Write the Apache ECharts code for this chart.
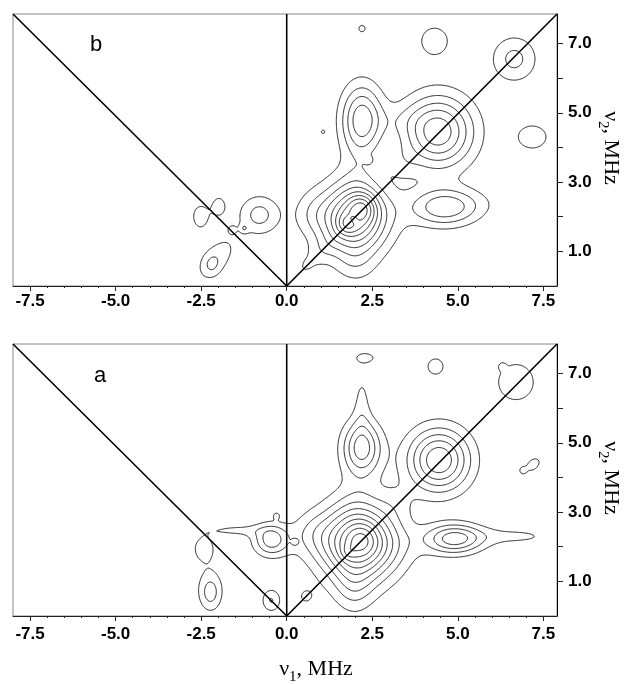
<!DOCTYPE html>
<html>
<head>
<meta charset="utf-8">
<script src="https://cdn.jsdelivr.net/npm/echarts@6/dist/echarts.min.js"></script>
<style>
  html, body { margin: 0; padding: 0; background: #fff; }
  #chart { width: 624px; height: 684px; }
</style>
</head>
<body>
<div id="chart"></div>
<script>
// ---- axis ranges and ticks (MHz) ----
const X_RANGE = [-8, 7.9];
const Y_RANGE = [0, 7.85];
const xLabelValues = [-7.5, -5.0, -2.5, 0.0, 2.5, 5.0, 7.5];
const xMinorTicks = [-7.5, -7, -6.5, -6, -5.5, -5, -4.5, -4, -3.5, -3, -2.5, -2, -1.5, -1, -0.5, 0,
                     0.5, 1, 1.5, 2, 2.5, 3, 3.5, 4, 4.5, 5, 5.5, 6, 6.5, 7, 7.5];
const yLabelValues = [1, 3, 5, 7];
const yTickValues = [1, 2, 3, 4, 5, 6, 7];

// contour levels (relative intensity units)
const contourLevels = [1, 2, 3, 4, 5, 6, 7, 8, 9, 10];

// spectral features: [nu1, nu2, widthX, widthY, amplitude, tiltDeg]
const peaksB = [
  // central (nu ~ 2.1 MHz) correlation
  [1.95, 1.95, 0.72, 0.72, 6.2, 0],
  [2.24, 2.28, 0.28, 0.28, 2.2, 0],
  [1.75, 1.78, 0.20, 0.20, 1.5, 0],
  [1.95, 1.93, 0.12, 0.12, -1.0, 0],
  [2.05, 2.30, 0.40, 1.40, 0.9, 0],
  [1.60, 2.00, 1.00, 0.40, 0.5, 0],
  [0.70, 2.15, 0.35, 0.45, 0.7, 0],
  [2.00, 0.60, 0.45, 0.35, 0.6, 0],
  [0.90, 0.90, 0.60, 0.25, 0.8, 45],
  [0.60, 0.62, 0.16, 0.10, 0.6, 45],
  // cross peaks
  [2.20, 4.80, 0.42, 0.70, 4.6, 0],
  [4.60, 2.27, 0.70, 0.38, 3.8, 0],
  [5.60, 2.40, 0.60, 0.30, 0.4, 0],
  // diagonal peak
  [4.42, 4.45, 0.72, 0.72, 5.75, 0],
  [3.30, 4.80, 0.55, 0.30, 0.5, 0],
  [3.35, 3.55, 0.32, 0.34, 0.75, 0],
  // weak features
  [6.65, 6.55, 0.47, 0.47, 2.3, 0],
  [4.32, 7.07, 0.41, 0.41, 1.5, 0],
  [7.18, 4.30, 0.44, 0.35, 1.5, 0],
  [2.20, 7.43, 0.20, 0.20, 1.1, 0],
  [1.06, 4.45, 0.08, 0.08, 1.05, 0],
  [2.41, 3.63, 0.08, 0.08, 1.05, 0],
  // (-,+) quadrant
  [-2.52, 2.00, 0.22, 0.32, 1.5, 0],
  [-1.98, 2.30, 0.18, 0.26, 1.4, 0],
  [-0.80, 2.05, 0.42, 0.40, 2.35, 0],
  [-1.60, 1.62, 0.09, 0.09, 1.15, 0],
  [-1.25, 1.66, 0.09, 0.09, 1.15, 0],
  [-2.05, 0.80, 0.55, 0.30, 1.6, 50],
  [-2.20, 0.60, 0.18, 0.22, 0.9, 0]
];

const peaksA = [
  // central (nu ~ 2.1 MHz) correlation
  [2.12, 2.12, 0.78, 0.78, 7.6, 0],
  [2.24, 2.24, 0.30, 0.30, 1.0, 0],
  [1.78, 1.82, 0.15, 0.15, 0.8, 0],
  [2.10, 2.00, 1.60, 0.40, 0.6, 0],
  [2.00, 2.10, 0.40, 1.60, 0.6, 0],
  [0.75, 2.45, 0.45, 0.40, 1.1, 0],
  [1.95, 0.75, 0.40, 0.45, 1.1, 0],
  [0.55, 0.55, 0.25, 0.25, 1.0, 0],
  // cross peaks
  [2.20, 4.85, 0.40, 0.55, 4.45, 0],
  [2.20, 6.20, 0.18, 0.65, 1.15, 0],
  [4.90, 2.23, 0.58, 0.30, 4.4, 0],
  [6.70, 2.30, 1.00, 0.20, 1.15, 0],
  // diagonal peak
  [4.45, 4.50, 0.63, 0.63, 5.9, 0],
  [3.20, 3.30, 0.35, 0.35, 0.5, 0],
  // weak features
  [2.30, 7.45, 0.28, 0.14, 1.3, 0],
  [4.35, 7.20, 0.30, 0.30, 1.3, 0],
  [6.70, 6.75, 0.52, 0.52, 1.6, 0],
  [7.20, 4.37, 0.33, 0.22, 1.2, 40],
  [6.90, 4.20, 0.07, 0.07, 1.05, 0],
  [6.30, 7.20, 0.07, 0.07, 1.05, 0],
  [0.24, 2.13, 0.07, 0.07, 1.05, 0],
  // (-,+) quadrant
  [-0.45, 2.20, 0.36, 0.32, 3.5, 0],
  [-1.50, 2.47, 0.65, 0.13, 1.15, 0],
  [-2.42, 1.95, 0.28, 0.33, 1.45, 0],
  [-2.22, 0.62, 0.22, 0.35, 1.5, 0],
  [-2.25, 0.85, 0.30, 0.45, 1.15, 0],
  [-0.45, 0.45, 0.20, 0.24, 2.05, 0],
  [-0.30, 2.90, 0.08, 0.08, 1.05, 0]
];

// ---- intensity map and contour tracing ----
const STEP = 0.025;

function buildField(peaks) {
  const nx = Math.round((X_RANGE[1] - X_RANGE[0]) / STEP) + 1;
  const ny = Math.round((Y_RANGE[1] - Y_RANGE[0]) / STEP) + 1;
  const xs = new Float64Array(nx), ys = new Float64Array(ny);
  for (let i = 0; i < nx; i++) xs[i] = Math.min(X_RANGE[0] + i * STEP, X_RANGE[1]);
  for (let j = 0; j < ny; j++) ys[j] = Math.min(Y_RANGE[0] + j * STEP, Y_RANGE[1]);
  const v = new Float64Array(nx * ny);
  for (const p of peaks) {
    const [cx, cy, sx, sy, amp, tilt] = p;
    const c = Math.cos(tilt * Math.PI / 180), s = Math.sin(tilt * Math.PI / 180);
    const reach = 4.5 * Math.max(sx, sy);
    for (let j = 0; j < ny; j++) {
      const dy0 = ys[j] - cy;
      if (Math.abs(dy0) > reach) continue;
      for (let i = 0; i < nx; i++) {
        const dx0 = xs[i] - cx;
        if (Math.abs(dx0) > reach) continue;
        const u = dx0 * c + dy0 * s, w = -dx0 * s + dy0 * c;
        v[j * nx + i] += amp * Math.exp(-0.5 * (u * u / (sx * sx) + w * w / (sy * sy)));
      }
    }
  }
  return { xs, ys, v, nx, ny };
}

function traceLevel(F, L) {
  const { xs, ys, v, nx, ny } = F;
  const segs = [];
  const ends = new Map();
  const addEnd = (k, id) => { const a = ends.get(k); if (a) a.push(id); else ends.set(k, [id]); };
  for (let j = 0; j < ny - 1; j++) {
    for (let i = 0; i < nx - 1; i++) {
      const a = v[j * nx + i], b = v[j * nx + i + 1];
      const c = v[(j + 1) * nx + i + 1], d = v[(j + 1) * nx + i];
      const code = (a >= L ? 1 : 0) | (b >= L ? 2 : 0) | (c >= L ? 4 : 0) | (d >= L ? 8 : 0);
      if (code === 0 || code === 15) continue;
      const E = {
        B: () => [((j * nx + i) * 2), [xs[i] + (L - a) / (b - a) * (xs[i + 1] - xs[i]), ys[j]]],
        T: () => [(((j + 1) * nx + i) * 2), [xs[i] + (L - d) / (c - d) * (xs[i + 1] - xs[i]), ys[j + 1]]],
        Lf: () => [((j * nx + i) * 2 + 1), [xs[i], ys[j] + (L - a) / (d - a) * (ys[j + 1] - ys[j])]],
        R: () => [((j * nx + i + 1) * 2 + 1), [xs[i + 1], ys[j] + (L - b) / (c - b) * (ys[j + 1] - ys[j])]]
      };
      const center = (a + b + c + d) / 4;
      let pairs;
      switch (code) {
        case 1: case 14: pairs = [['Lf', 'B']]; break;
        case 2: case 13: pairs = [['B', 'R']]; break;
        case 3: case 12: pairs = [['Lf', 'R']]; break;
        case 4: case 11: pairs = [['R', 'T']]; break;
        case 6: case 9: pairs = [['B', 'T']]; break;
        case 7: case 8: pairs = [['Lf', 'T']]; break;
        case 5: pairs = center >= L ? [['B', 'R'], ['T', 'Lf']] : [['Lf', 'B'], ['R', 'T']]; break;
        case 10: pairs = center >= L ? [['Lf', 'B'], ['R', 'T']] : [['B', 'R'], ['T', 'Lf']]; break;
      }
      for (const [e1, e2] of pairs) {
        const p = E[e1](), q = E[e2]();
        const id = segs.length;
        segs.push([p[0], p[1], q[0], q[1]]);
        addEnd(p[0], id); addEnd(q[0], id);
      }
    }
  }
  const used = new Uint8Array(segs.length);
  const paths = [];
  const follow = (k, push) => {
    for (;;) {
      const list = ends.get(k);
      let nxt = -1;
      if (list) for (const t of list) if (!used[t]) { nxt = t; break; }
      if (nxt < 0) return;
      used[nxt] = 1;
      const sg = segs[nxt];
      if (sg[0] === k) { push(sg[3]); k = sg[2]; } else { push(sg[1]); k = sg[0]; }
    }
  };
  for (let s = 0; s < segs.length; s++) {
    if (used[s]) continue;
    used[s] = 1;
    const line = [segs[s][1], segs[s][3]];
    follow(segs[s][2], pt => line.push(pt));
    follow(segs[s][0], pt => line.unshift(pt));
    paths.push({ coords: line });
  }
  return paths;
}

function contourData(peaks) {
  const F = buildField(peaks);
  let out = [];
  for (const L of contourLevels) out = out.concat(traceLevel(F, L));
  return out;
}

// reference lines: nu1 = 0 and the two diagonals
function guideLines() {
  return [
    { coords: [[0, Y_RANGE[0]], [0, Y_RANGE[1]]] },
    { coords: [[0, 0], [X_RANGE[1], Y_RANGE[1]]] },
    { coords: [[0, 0], [X_RANGE[0], Y_RANGE[1]]] }
  ];
}

// ---- layout ----
const SANS = '"Liberation Sans", Arial, sans-serif';
const SERIF = '"Liberation Serif", "Times New Roman", serif';
const grids = [
  { left: 13, top: 14, width: 544, height: 272 },
  { left: 13, top: 344, width: 544, height: 272 }
];

const xAxes = [], yAxes = [], series = [];
grids.forEach((g, gi) => {
  xAxes.push({
    type: 'value', gridIndex: gi, min: X_RANGE[0], max: X_RANGE[1], position: 'bottom',
    axisLine: { show: true, onZero: false, lineStyle: { color: '#222', width: 1 } },
    axisTick: { show: true, length: 2, customValues: xMinorTicks, lineStyle: { color: '#222', width: 1 } },
    axisLabel: {
      show: true, customValues: xLabelValues, margin: gi === 0 ? 7 : 10,
      formatter: v => Number(v).toFixed(1),
      color: '#000', fontFamily: SANS, fontWeight: 'bold', fontSize: 17
    },
    splitLine: { show: false }
  });
  xAxes.push({
    type: 'value', gridIndex: gi, min: X_RANGE[0], max: X_RANGE[1], position: 'bottom',
    axisLine: { show: false, onZero: false },
    axisTick: { show: true, length: 5, customValues: xLabelValues, lineStyle: { color: '#222', width: 1 } },
    axisLabel: { show: false },
    splitLine: { show: false }
  });
  yAxes.push({
    type: 'value', gridIndex: gi, min: Y_RANGE[0], max: Y_RANGE[1], position: 'right',
    axisLine: { show: true, onZero: false, lineStyle: { color: '#000', width: 1 } },
    axisTick: { show: true, length: 6, customValues: yTickValues, lineStyle: { color: '#222', width: 1 } },
    axisLabel: {
      show: true, customValues: yLabelValues, margin: 11,
      formatter: v => Number(v).toFixed(1),
      color: '#000', fontFamily: SANS, fontWeight: 'bold', fontSize: 17
    },
    splitLine: { show: false }
  });
});

const panels = [peaksB, peaksA];
panels.forEach((pk, gi) => {
  series.push({
    type: 'lines', coordinateSystem: 'cartesian2d', polyline: true,
    xAxisIndex: gi * 2, yAxisIndex: gi, silent: true,
    lineStyle: { color: '#111', width: 0.9, opacity: 1 },
    data: contourData(pk), z: 2
  });
  series.push({
    type: 'lines', coordinateSystem: 'cartesian2d', polyline: true,
    xAxisIndex: gi * 2, yAxisIndex: gi, silent: true,
    lineStyle: { color: '#000', width: 1.6, opacity: 1 },
    data: guideLines(), z: 3
  });
});

// ---- axis titles built from pieces so the subscript sits low ----
const measureCtx = document.createElement('canvas').getContext('2d');
function textWidth(t, font) { measureCtx.font = font; return measureCtx.measureText(t).width; }
function nuTitle(sub, cx, cy, rotation) {
  const big = '22px ' + SERIF, small = '15px ' + SERIF;
  const parts = [['ν', big, 0], [sub, small, 8], [', MHz', big, 0]];
  const widths = parts.map(p => textWidth(p[0], p[1]));
  let x = -widths.reduce((s, w) => s + w, 0) / 2;
  const children = parts.map((p, i) => {
    const el = {
      type: 'text', x: x, y: p[2],
      style: { text: p[0], font: p[1], fill: '#000', align: 'left', verticalAlign: 'middle' }
    };
    x += widths[i];
    return el;
  });
  return { type: 'group', x: cx, y: cy, rotation: rotation, children: children };
}

const graphic = [
  { type: 'text', x: 90, y: 45, style: { text: 'b', font: '22px ' + SANS, fill: '#000', verticalAlign: 'middle' } },
  { type: 'text', x: 94, y: 376, style: { text: 'a', font: '22px ' + SANS, fill: '#000', verticalAlign: 'middle' } },
  nuTitle('1', 316, 669, 0),
  nuTitle('2', 611, 148, -Math.PI / 2),
  nuTitle('2', 611, 478, -Math.PI / 2)
];

const chart = echarts.init(document.getElementById('chart'), null, { renderer: 'canvas' });
chart.setOption({
  animation: false,
  backgroundColor: '#fff',
  grid: grids.map(g => Object.assign({ show: true, borderColor: '#888', borderWidth: 1, backgroundColor: 'transparent' }, g)),
  xAxis: xAxes,
  yAxis: yAxes,
  series: series,
  graphic: graphic
});
</script>
</body>
</html>
